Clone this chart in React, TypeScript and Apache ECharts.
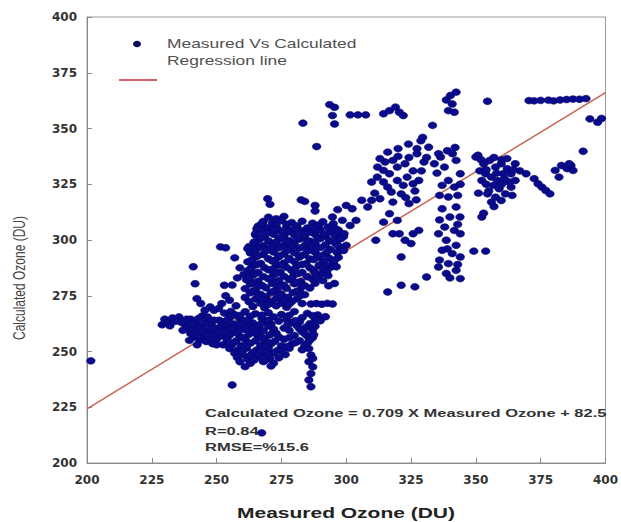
import React, { useEffect, useRef } from "react";
import * as echarts from "echarts";

type P = [number, number];

const xTicks = [200, 225, 250, 275, 300, 325, 350, 375, 400];
const yTicks = [200, 225, 250, 275, 300, 325, 350, 375, 400];

const regressionLine: P[] = [[200, 224.3], [400, 366.1]];

const leftBand: P[] = [
  [229, 262], [230, 264.5], [231.5, 263], [233, 265], [235.5, 265.5], [238, 262], [239, 260], [240, 258],
  [241, 261], [241.5, 256.5], [242, 263.5], [243, 259], [243.5, 255], [244, 261.5], [245, 257], [245.5, 263],
  [246, 254.5], [247, 259.5], [247.5, 256], [248, 262], [248.5, 253.5], [249, 258], [250, 255.5], [250.5, 260.5],
  [251, 264], [244.5, 266], [246.5, 265.5], [240, 264.5], [237, 259.5], [252, 257], [252.5, 253], [239.5, 255],
  [242.5, 253], [232, 261.5], [234, 263.5], [236.5, 263], [238.5, 264.5], [241, 262.5], [243, 264.8],
  [245, 260], [247, 262.5], [249, 264], [251, 258.5], [252, 261.5], [250, 253], [244.5, 258.5], [246.5, 257.5],
  [248.5, 260.5], [242, 257.8], [240.5, 259.7],
];

const bridge: P[] = [
  [241, 288], [241.7, 280.4], [242.4, 273.7], [243.9, 271.5], [245.5, 268.5], [247.5, 270], [249, 268.5],
  [250.8, 269.3], [252, 271.5], [253.5, 275], [255, 273], [253, 279.7], [256, 279.8], [251.5, 296.9],
  [253.5, 296.5], [257, 292], [259, 287.5], [258, 283], [260.5, 284.5], [257.5, 270.5], [255.5, 268],
];

const lowerCluster: P[] = [
  [253, 267.2], [257, 266.5], [261, 267.8], [265, 266.9], [270, 267.4], [275, 266.6], [280, 267.9], [285, 267.1], [289, 266.4],
  [255, 265.3], [259, 264.6], [263, 265.8], [267.5, 264.9], [272, 265.5], [277, 264.4], [283, 265.2], [288, 264.8], [292, 265.6],
  [252.5, 263.1], [256.5, 262.4], [260, 263.7], [264, 262.8], [268, 263.4], [271, 262.2], [274, 263.6], [279, 262.9], [282, 263.3], [286, 262.5], [290, 263.8],
  [254, 261.2], [258, 260.6], [262, 261.7], [266, 260.8], [270, 261.4], [276, 260.5], [281, 261.6], [284.5, 260.9], [288, 261.3],
  [253, 259.4], [257, 258.7], [260.5, 259.8], [264, 258.6], [268, 259.3], [272, 258.8], [278, 259.5], [283, 258.9], [287, 259.6],
  [255, 257.3], [259, 256.6], [262.5, 257.7], [266, 256.8], [270.5, 257.4], [274, 256.5], [280, 257.2], [285, 256.9],
  [254, 255.4], [257.5, 254.7], [261, 255.6], [265, 254.8], [268.5, 255.3], [272.5, 254.6], [276, 255.5], [282, 254.9], [286, 255.2],
  [256, 253.2], [259.5, 252.6], [263, 253.7], [267, 252.8], [271, 253.4], [275, 252.5], [279, 253.3], [284, 252.7],
  [255, 251.3], [258, 250.6], [261.5, 251.5], [265.5, 250.7], [270, 251.2], [273.5, 250.5], [278, 251.4], [283, 250.8],
  [257, 249.2], [260, 248.5], [264, 249.6], [268, 248.8], [272, 249.3], [276.5, 248.6],
  [258, 247.3], [262, 246.6], [266, 247.5], [270.5, 246.8], [274, 247.2],
  [259, 245.4], [263, 244.7], [268, 245.5], [272, 244.8],
  [261, 243.2], [271, 243.5],
];

const lowerFill: P[] = [
  [259, 266.2], [267.5, 266.3], [278, 266.2], [287, 266.1],
  [254, 264], [261.5, 263.9], [270, 264], [280.5, 263.8], [289.5, 264],
  [259, 262.2], [267, 262.3], [277.5, 262.2], [287, 262.1],
  [255.5, 260], [263.5, 259.9], [272, 260], [282, 260.2],
  [258, 258.2], [265.5, 258.3], [273, 258.2], [284, 258],
  [260, 256.2], [267.5, 256.3], [278, 256.2], [287, 256.2],
  [255, 254], [262, 253.9], [270, 254], [280.5, 254],
  [261, 252.2], [269, 252.3], [277, 252.2],
  [260, 250.2], [267, 250.3], [275, 250.2],
  [263, 248.2], [270, 248.3],
  [264.5, 246.2], [268.5, 245.9],
];

const lowerStrip: P[] = [
  [285.6, 251.3], [286.4, 248.4], [285.6, 245.4], [287.1, 243.1], [286.4, 240.1], [285.6, 237.2],
  [286.4, 234.2], [287.1, 246.9], [285.2, 254], [287.5, 257.5],
];

const upperCluster: P[] = [
  [270, 310.2], [273, 309.5], [276, 310.6],
  [268, 308.3], [271.5, 307.6], [275, 308.7], [279, 307.8], [283, 308.4], [287, 307.5], [291, 308.2],
  [266, 306.2], [269.5, 305.5], [273, 306.6], [277, 305.7], [281, 306.3], [285, 305.4], [289, 306.5], [293, 305.8],
  [267, 304.3], [270.5, 303.6], [274, 304.5], [278, 303.7], [282.5, 304.2], [286, 303.5], [290, 304.6], [294, 303.8], [297, 304.4],
  [265, 302.2], [268.5, 301.5], [272, 302.6], [276, 301.7], [280, 302.3], [284, 301.4], [288, 302.5], [292, 301.8], [295.5, 302.3], [299, 301.6],
  [266.5, 300.3], [270, 299.6], [274, 300.5], [278, 299.7], [282, 300.4], [286, 299.5], [290, 300.6], [293.5, 299.8], [297, 300.2],
  [264.5, 298.2], [268, 297.5], [272, 298.6], [276, 297.7], [280, 298.3], [284, 297.4], [288, 298.5], [292, 297.8], [296, 298.4], [300, 297.6],
  [266, 296.3], [270, 295.6], [274, 296.5], [278, 295.7], [282, 296.4], [286, 295.5], [290, 296.6], [294, 295.8], [298, 296.2],
  [263, 294.2], [268, 293.5], [272, 294.6], [276, 293.7], [280, 294.3], [284, 293.4], [288, 294.5], [292, 293.8], [296.5, 294.4],
  [265, 292.3], [270, 291.6], [274, 292.5], [278, 291.7], [282, 292.4], [286, 291.5], [289, 292.6], [293.5, 291.8], [297, 292.2],
  [262, 290.2], [267, 289.5], [271.5, 290.6], [276, 289.7], [280, 290.3], [284.5, 289.4], [291, 290.5], [295, 289.8],
  [264, 288.3], [268.5, 287.6], [273, 288.5], [277, 287.7], [281, 288.4], [286, 287.5], [289.5, 288.6], [294, 287.8],
  [262, 286.2], [266, 285.5], [270, 286.6], [274.5, 285.7], [279, 286.3], [283, 285.4], [287.5, 286.5], [292.5, 285.8],
  [264, 284.3], [268, 283.6], [272, 284.5], [276, 283.7], [280, 284.4], [285, 283.5], [290, 284.6],
  [261.5, 282.2], [266, 281.5], [270, 282.6], [274, 281.7], [278, 282.3], [282.5, 281.4], [287, 282.5], [291, 281.8],
  [263, 280.3], [267.5, 279.6], [271.5, 280.5], [276, 279.7], [280, 280.4], [284, 279.5], [288, 280.6],
  [261, 278.2], [265, 277.5], [269, 278.6], [273, 277.7], [277, 278.3], [282, 277.4], [286, 278.5],
  [263, 276.3], [267, 275.6], [271, 276.5], [275, 275.7], [279.5, 276.4], [284, 275.5],
  [261, 274.2], [265, 273.5], [269, 274.6], [273, 273.7], [277.5, 274.3], [281, 273.6],
  [262.5, 272.3], [267, 271.6], [271, 272.5], [275, 271.7], [279, 272.4], [283, 271.5],
  [264, 270.2], [268.5, 269.6], [273, 270.5], [277, 269.8],
];

const upperFill: P[] = [
  [267.5, 307], [277, 307.1], [289.5, 306.7], [295, 307.3],
  [265.5, 305], [272, 304.8], [280, 304.9], [288, 304.8], [296, 305],
  [269, 302.8], [275.5, 303.2], [283.5, 302.9], [291.5, 302.8], [297.5, 303.1],
  [267, 301], [275, 301.2], [281, 301], [289, 300.9], [298, 300.7],
  [265, 299], [273, 298.9], [277, 299.3], [285, 299.2], [295, 299.3],
  [262.5, 297], [271, 296.9], [279, 297], [287, 296.8], [297, 297.3],
  [264.5, 295], [269, 295.2], [277, 295.3], [285, 295.2], [293, 295.1], [299, 295.3],
  [266, 293], [274, 292.9], [282, 293], [290, 292.8],
  [263.5, 291], [272.5, 290.9], [278, 291.3], [287.5, 291.2],
  [265.5, 289], [275, 288.9], [283, 289], [292, 288.8],
  [263, 287], [271.5, 286.9], [280, 287], [291, 287.1],
  [265, 285], [273, 284.9], [281.5, 285], [288, 285.2],
  [262.5, 283], [271, 282.9], [279, 283], [288.5, 283],
  [264.5, 281], [273, 280.9], [281, 281],
  [266, 279.2], [274.5, 279.3], [283, 279.2],
  [264, 277], [272, 276.9], [281, 277],
  [266, 275.2], [274, 275.3], [282.5, 275.2],
  [268, 273.2], [276, 273.3],
  [270, 271.2], [278, 271.3],
];

const upperEdge: P[] = [
  [269.7, 318.5], [270.6, 316], [282.6, 318], [284, 317.3], [288, 315.5], [288, 313], [296.7, 313.6],
  [294.7, 310.3], [298.5, 308.8], [299.2, 302.8], [262, 296.1], [264.4, 299], [265, 302.8], [267.4, 307.3],
  [286.4, 271.3], [288.5, 271.5], [290.6, 271.2], [292.7, 271.6], [294.7, 271.3], [293.2, 279.5],
  [295.5, 280.5], [293, 284], [295.5, 291], [296.2, 288],
];

const midRight: P[] = [
  [300, 315.5], [302.3, 314], [306, 317.8], [308.3, 314.8], [309.8, 317.8], [303.8, 308.8], [301.5, 306.5],
  [309.8, 326], [312, 328.2], [314.4, 326], [316.7, 329.7], [316, 323.7], [318, 335.7], [319.7, 332.7],
  [322.7, 334.2], [324.2, 337], [325.8, 331], [327.3, 338.7], [323.5, 328.2], [319.7, 326.7], [322, 324.5],
  [325.8, 325.2], [328, 326.7], [317.4, 321.5], [321.2, 320.7], [316, 339.4], [312.1, 332.7], [314.4, 331.2],
  [327.3, 341], [328.8, 344.5], [329.5, 346], [331.8, 341.6], [316.7, 311.8], [319.7, 308.8], [324.2, 316.3],
  [320.5, 302.8], [322.7, 299.9], [325.8, 302.8], [328, 304.3], [318, 302.8], [325, 298.4], [311.4, 299.9],
  [314.4, 308], [321.2, 292.4], [316, 276.7], [321.2, 279.7], [326.5, 279], [331, 283.4], [320, 337.5],
  [330, 335], [326.5, 322], [311, 321], [313, 318.5], [318, 317], [323, 319], [327, 318], [329, 331],
  [331, 337], [315, 335], [320, 341], [324, 343], [313, 336.5],
];

const column340: P[] = [
  [334, 334.2], [336.4, 337.2], [337.9, 332.7], [341, 338.7], [342.4, 335.7], [339.4, 326.7], [337, 324.5],
  [341.7, 323.7], [344, 329.7], [339.4, 319.3], [342.4, 314.8], [337, 314], [340, 310.3], [343.9, 310.3],
  [338, 305.8], [341.7, 304.3], [335.6, 302.8], [344, 302.8], [338.6, 299.9], [342.4, 297.6], [337, 295.4],
  [340.9, 293.9], [344, 292.4], [339.4, 289.4], [335.6, 287.9], [342.4, 286.4], [344, 282.7], [338.6, 285],
  [335.6, 338.7], [339, 340], [342, 341.5], [349.2, 295], [353.8, 295], [352.3, 310.3], [336, 320],
  [343, 320], [336, 309], [343, 307], [339, 296], [336, 291], [343, 289], [340, 283], [335, 330], [344, 325],
];

const rightCluster: P[] = [
  [350, 337.2], [353, 334.2], [355.3, 335.7], [357.6, 332.7], [359.8, 334.2], [362.1, 332], [363.6, 329.7],
  [365.2, 334.2], [353.8, 329.7], [356, 328.2], [358.3, 326.7], [360.6, 329.7], [362.9, 326], [356.8, 324.5],
  [359, 323], [361.4, 320.7], [357.6, 319.2], [356, 317], [354.5, 320.7], [359.8, 317.7], [351.5, 331],
  [352.3, 326.7], [363.6, 323.7], [365.2, 326.7], [367, 331], [369.4, 329.7], [372.5, 327.5], [374, 325.2],
  [375.5, 323.7], [377, 322.2], [378.6, 320.7], [380.6, 331.2], [383, 333.4], [385.2, 332], [386.7, 333.4],
  [387.5, 331.2], [386, 334.2], [382.1, 328.2], [391.4, 339.8], [350.8, 338], [354, 331.5], [358, 330],
  [361, 327.5], [355, 322], [364.5, 331.5], [360, 336], [353, 312], [352, 336], [357, 337], [362, 336.5],
  [354, 325], [360, 325], [364, 320], [357, 315], [351, 321],
];

const topRow: P[] = [
  [338.6, 362.8], [340.2, 364.8], [342.4, 366.3], [340.9, 361], [339.4, 358], [341.7, 357.3], [333.3, 351.4],
  [354.5, 362.2], [370.5, 362.5], [372.5, 362.4], [375, 362.6], [378, 362.7], [380, 362.4], [382.5, 362.8],
  [385, 363], [387.5, 363.2], [390, 363.1], [392.5, 363.4], [394, 354.3], [397, 352.8], [398.5, 354.5],
  [314.4, 356.6], [316.7, 358], [319, 359.6], [320.5, 357.3], [322, 355.8], [301.5, 356.1], [304.5, 356.1],
  [307.5, 356.1], [293.6, 360.7], [295.5, 359.5], [294.7, 355.8], [295.5, 352], [283.3, 352.4], [288.6, 341.9],
];

const outliers: P[] = [[201.5, 245.8], [256, 235], [267.4, 213.5]];

const measuredVsCalculated: P[] = [
  ...leftBand, ...bridge, ...lowerCluster, ...lowerFill, ...lowerStrip, ...upperCluster, ...upperFill,
  ...upperEdge, ...midRight, ...column340, ...rightCluster, ...topRow, ...outliers,
];

const legendTexts = ["Measured Vs Calculated", "Regression line"];
const annotationTexts = [
  "Calculated Ozone = 0.709 X Measured Ozone + 82.5",
  "R=0.84",
  "RMSE=%15.6",
];

const ARIAL = "'Liberation Sans', Arial, Helvetica, sans-serif";
const TICKFONT = "'DejaVu Sans', Verdana, sans-serif";

export default function App() {
  const ref = useRef<HTMLDivElement>(null);

  useEffect(() => {
    if (!ref.current) return;
    const chart = echarts.init(ref.current, undefined, { renderer: "svg" });
    const axisCommon = {
      type: "value" as const,
      min: 200,
      max: 400,
      interval: 25,
      splitLine: { show: false },
      axisLine: { show: true, lineStyle: { color: "#8a8a8a", width: 1 } },
      axisTick: { show: true, inside: true, length: 5, lineStyle: { color: "#8a8a8a" } },
    };
    chart.setOption({
      animation: false,
      backgroundColor: "#ffffff",
      grid: {
        left: 87,
        right: 12,
        top: 17,
        bottom: 59,
        show: true,
        borderColor: "#9a9a9a",
        borderWidth: 1,
        backgroundColor: "transparent",
      },
      xAxis: {
        ...axisCommon,
        axisLabel: {
          margin: 11,
          fontFamily: TICKFONT,
          fontWeight: "bold",
          fontSize: 12,
          color: "#333",
          formatter: (v: number) => (xTicks.includes(v) ? String(v) : ""),
        },
      },
      yAxis: {
        ...axisCommon,
        axisLabel: {
          margin: 10,
          fontFamily: TICKFONT,
          fontWeight: "bold",
          fontSize: 12,
          color: "#333",
          formatter: (v: number) => (yTicks.includes(v) ? String(v) : ""),
        },
      },
      series: [
        {
          name: legendTexts[1],
          type: "line",
          data: regressionLine,
          symbol: "none",
          lineStyle: { color: "#c8644f", width: 1.5 },
          z: 1,
        },
        {
          name: legendTexts[0],
          type: "scatter",
          data: measuredVsCalculated,
          symbol: "circle",
          symbolSize: [8.5, 6.8],
          itemStyle: { color: "#0a0a8c", borderColor: "#06066a", borderWidth: 0.6, opacity: 1 },
          z: 2,
        },
      ],
      graphic: [
        {
          type: "ellipse",
          shape: { cx: 137, cy: 44, rx: 4, ry: 3.3 },
          style: { fill: "#0a0a5e" },
        },
        {
          type: "text",
          x: 167,
          y: 44,
          scaleX: 1.45,
          style: {
            text: legendTexts[0],
            x: 0,
            y: 0,
            fontSize: 12,
            fontFamily: ARIAL,
            fill: "#505050",
            textAlign: "left",
            textVerticalAlign: "middle",
            align: "left",
            verticalAlign: "middle",
          },
        },
        {
          type: "text",
          x: 167,
          y: 61,
          scaleX: 1.45,
          style: {
            text: legendTexts[1],
            x: 0,
            y: 0,
            fontSize: 12,
            fontFamily: ARIAL,
            fill: "#505050",
            textAlign: "left",
            textVerticalAlign: "middle",
            align: "left",
            verticalAlign: "middle",
          },
        },
        {
          type: "line",
          shape: { x1: 119, y1: 80, x2: 157, y2: 80 },
          style: { stroke: "#d0606a", lineWidth: 2 },
        },
        ...annotationTexts.map((t, i) => ({
          type: "text",
          x: 205,
          y: [413, 431, 447][i],
          scaleX: 1.5,
          style: {
            text: t,
            x: 0,
            y: 0,
            fontSize: 11,
            fontWeight: "bold",
            fontFamily: ARIAL,
            fill: "#333",
            textAlign: "left",
            textVerticalAlign: "middle",
            align: "left",
            verticalAlign: "middle",
          },
        })),
        {
          type: "text",
          x: 346,
          y: 513,
          scaleX: 1.5,
          style: {
            text: "Measured Ozone (DU)",
            x: 0,
            y: 0,
            fontSize: 14,
            fontWeight: "bold",
            fontFamily: ARIAL,
            fill: "#222",
            textAlign: "center",
            textVerticalAlign: "middle",
            align: "center",
            verticalAlign: "middle",
          },
        },
        {
          type: "text",
          x: 19,
          y: 278,
          rotation: Math.PI / 2,
          scaleY: 1.45,
          style: {
            text: "Calculated Ozone (DU)",
            x: 0,
            y: 0,
            fontSize: 12,
            fontFamily: ARIAL,
            fill: "#444",
            textAlign: "center",
            textVerticalAlign: "middle",
            align: "center",
            verticalAlign: "middle",
          },
        },
      ],
    });
    return () => chart.dispose();
  }, []);

  return (
    <div
      ref={ref}
      style={{ position: "fixed", left: 0, top: 0, width: 621, height: 522, background: "#fff" }}
    />
  );
}
